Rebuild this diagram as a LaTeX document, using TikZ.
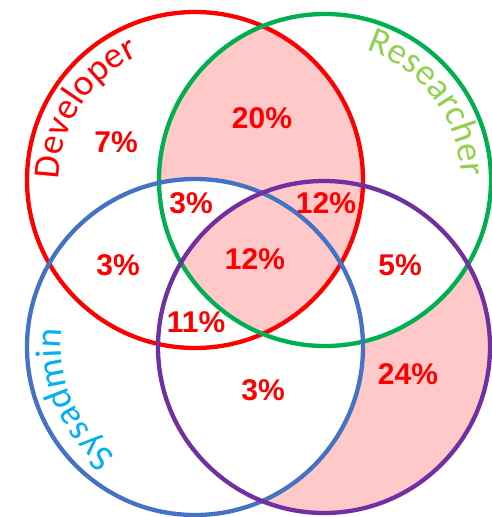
\documentclass[tikz,border=0pt]{standalone}
\usepackage{fontspec}
\setmainfont{Liberation Sans}
\newfontfamily\carl{Carlito}
\usetikzlibrary{decorations.text}
\definecolor{cR}{HTML}{FF0000}
\definecolor{cG}{HTML}{00B050}
\definecolor{cB}{HTML}{4472C4}
\definecolor{cP}{HTML}{7030A0}
\definecolor{pinkfill}{HTML}{FFC9C9}
\definecolor{tG}{HTML}{92D050}
\definecolor{tB}{HTML}{00B0F0}
\newcommand\circR{(195,-180) circle[radius=168]}
\newcommand\circG{(325,-180) circle[radius=166]}
\newcommand\circB{(195,-347) circle[radius=168]}
\newcommand\circP{(324,-347) circle[radius=166]}
\newcommand\lblfont{\fontsize{37}{37}\selectfont\carl}
\begin{document}
\begin{tikzpicture}[x=1pt,y=1pt,
  ring/.style={line width=4.3pt},
  pct/.style={text=cR, font=\fontsize{30}{30}\selectfont\bfseries, inner sep=0pt}]
\useasboundingbox (0,0) rectangle (491,-517);
% shading
\begin{scope}
  \clip \circP;
  \fill[pinkfill] \circP;
  \fill[white] \circB;
  \fill[white] \circG;
\end{scope}
\begin{scope}
  \clip \circR; \clip \circG;
  \fill[pinkfill] \circR;
\end{scope}
\begin{scope}
  \clip \circR; \clip \circG; \clip \circB;
  \fill[white] \circB;
\end{scope}
\begin{scope}
  \clip \circR; \clip \circG; \clip \circB; \clip \circP;
  \fill[pinkfill] \circP;
\end{scope}
% circles
\draw[ring, cR] \circR;
\draw[ring, cG] \circG;
\draw[ring, cB] \circB;
\draw[ring, cP] \circP;
% curved labels
\coordinate (cr) at (195,-180);
\coordinate (cg) at (325,-180);
\coordinate (cb) at (195,-347);
\path[decorate, decoration={text along path, text align=center,
  text={|\lblfont\color{cR}|Developer}}]
  (cr) ++(188:136) arc[start angle=188, end angle=106, radius=136];
\path[decorate, decoration={text along path, text align=center,
  text={|\lblfont\color{tG}|Researcher}}]
  (cg) ++(80:136) arc[start angle=80, end angle=-6, radius=136];
\path[decorate, decoration={text along path, text align=center,
  text={|\lblfont\color{tB}|Sysadmin}}]
  (cb) ++(243:134) arc[start angle=243, end angle=163, radius=134];
% percentages
\node[pct] (p7)  at (116,-142) {7\%};
\node[pct] (p20) at (262,-118) {20\%};
\node[pct] (p3a) at (191,-203) {3\%};
\node[pct] (p12a) at (326,-203) {12\%};
\node[pct] (p3b) at (118,-265) {3\%};
\node[pct] (p12b) at (255,-259) {12\%};
\node[pct] (p5)  at (400,-265) {5\%};
\node[pct] (p11) at (196,-322) {11\%};
\node[pct] (p3c) at (263,-390) {3\%};
\node[pct] (p24) at (408,-374) {24\%};
\end{tikzpicture}
\end{document}
